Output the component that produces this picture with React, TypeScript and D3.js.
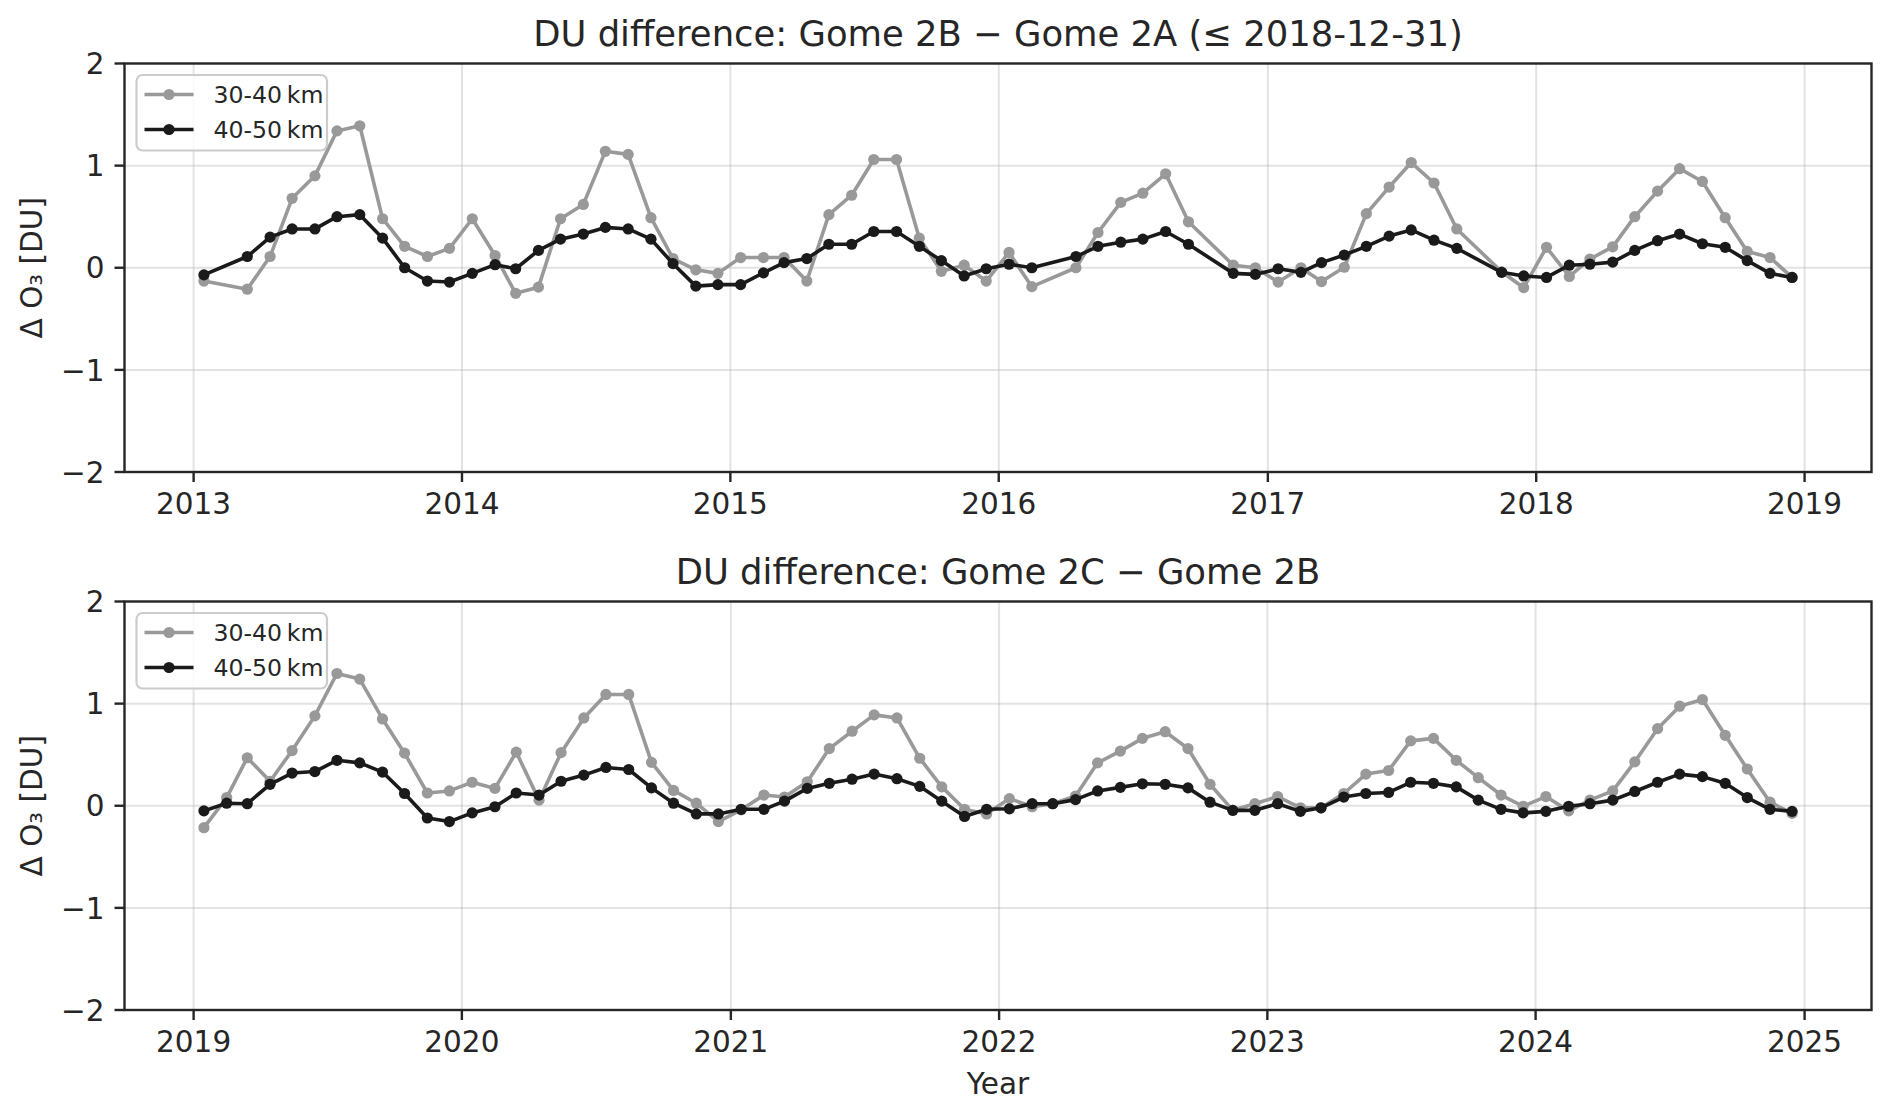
import { useRef, useEffect } from "react"
import * as d3 from "d3"

const WIDTH = 1892
const HEIGHT = 1113

// Gome 2B − Gome 2A (some months have no data)
const monthsTop = [
  "2013-01", "2013-03", "2013-04", "2013-05", "2013-06", "2013-07", "2013-08", "2013-09", "2013-10", "2013-11", "2013-12",
  "2014-01", "2014-02", "2014-03", "2014-04", "2014-05", "2014-06", "2014-07", "2014-08", "2014-09", "2014-10", "2014-11", "2014-12",
  "2015-01", "2015-02", "2015-03", "2015-04", "2015-05", "2015-06", "2015-07", "2015-08", "2015-09", "2015-10", "2015-11", "2015-12",
  "2016-01", "2016-02", "2016-04", "2016-05", "2016-06", "2016-07", "2016-08", "2016-09", "2016-11", "2016-12",
  "2017-01", "2017-02", "2017-03", "2017-04", "2017-05", "2017-06", "2017-07", "2017-08", "2017-09", "2017-11", "2017-12",
  "2018-01", "2018-02", "2018-03", "2018-04", "2018-05", "2018-06", "2018-07", "2018-08", "2018-09", "2018-10", "2018-11", "2018-12",
]
const gray30Top = [
  -0.13, -0.21, 0.11, 0.68, 0.9, 1.34, 1.39, 0.48, 0.21, 0.11, 0.19,
  0.48, 0.12, -0.25, -0.19, 0.48, 0.62, 1.14, 1.11, 0.49, 0.09, -0.02, -0.055,
  0.1, 0.1, 0.1, -0.13, 0.52, 0.71, 1.06, 1.06, 0.29, -0.035, 0.025, -0.13,
  0.15, -0.185, 0.0, 0.345, 0.64, 0.73, 0.92, 0.45, 0.025, 0.0,
  -0.14, 0.0, -0.135, 0.005, 0.53, 0.79, 1.03, 0.83, 0.38, -0.04, -0.195,
  0.2, -0.085, 0.085, 0.205, 0.5, 0.75, 0.97, 0.845, 0.49, 0.16, 0.1, -0.095,
]
const black40Top = [
  -0.07, 0.11, 0.3, 0.38, 0.38, 0.5, 0.52, 0.29, 0.0, -0.13, -0.14,
  -0.055, 0.03, -0.01, 0.17, 0.28, 0.33, 0.395, 0.38, 0.28, 0.04, -0.18, -0.165,
  -0.165, -0.05, 0.05, 0.09, 0.23, 0.23, 0.355, 0.355, 0.21, 0.07, -0.08, -0.01,
  0.035, 0.0, 0.11, 0.21, 0.25, 0.28, 0.355, 0.23, -0.055, -0.065,
  -0.01, -0.045, 0.05, 0.125, 0.21, 0.31, 0.37, 0.27, 0.19, -0.045, -0.08,
  -0.095, 0.025, 0.035, 0.055, 0.17, 0.265, 0.33, 0.235, 0.2, 0.07, -0.055, -0.095,
]

// Gome 2C − Gome 2B
const monthsBottom = [
  "2019-01", "2019-02", "2019-03", "2019-04", "2019-05", "2019-06", "2019-07", "2019-08", "2019-09", "2019-10", "2019-11", "2019-12",
  "2020-01", "2020-02", "2020-03", "2020-04", "2020-05", "2020-06", "2020-07", "2020-08", "2020-09", "2020-10", "2020-11", "2020-12",
  "2021-01", "2021-02", "2021-03", "2021-04", "2021-05", "2021-06", "2021-07", "2021-08", "2021-09", "2021-10", "2021-11", "2021-12",
  "2022-01", "2022-02", "2022-03", "2022-04", "2022-05", "2022-06", "2022-07", "2022-08", "2022-09", "2022-10", "2022-11", "2022-12",
  "2023-01", "2023-02", "2023-03", "2023-04", "2023-05", "2023-06", "2023-07", "2023-08", "2023-09", "2023-10", "2023-11", "2023-12",
  "2024-01", "2024-02", "2024-03", "2024-04", "2024-05", "2024-06", "2024-07", "2024-08", "2024-09", "2024-10", "2024-11", "2024-12",
]
const gray30Bottom = [
  -0.215, 0.08, 0.47, 0.24, 0.54, 0.88, 1.295, 1.24, 0.85, 0.515, 0.125, 0.145,
  0.23, 0.17, 0.525, 0.055, 0.52, 0.86, 1.09, 1.09, 0.425, 0.15, 0.025, -0.155,
  -0.04, 0.105, 0.085, 0.235, 0.56, 0.73, 0.89, 0.86, 0.465, 0.185, -0.035, -0.08,
  0.07, -0.01, 0.02, 0.095, 0.42, 0.535, 0.66, 0.725, 0.56, 0.21, -0.045, 0.02,
  0.09, -0.02, -0.02, 0.12, 0.31, 0.345, 0.635, 0.66, 0.445, 0.275, 0.105, -0.005,
  0.09, -0.05, 0.055, 0.145, 0.43, 0.755, 0.975, 1.04, 0.69, 0.36, 0.035, -0.075,
]
const black40Bottom = [
  -0.05, 0.025, 0.02, 0.21, 0.32, 0.335, 0.445, 0.42, 0.33, 0.12, -0.12, -0.155,
  -0.07, -0.01, 0.125, 0.105, 0.24, 0.3, 0.375, 0.355, 0.175, 0.025, -0.08, -0.08,
  -0.035, -0.035, 0.045, 0.17, 0.22, 0.26, 0.31, 0.265, 0.19, 0.045, -0.105, -0.035,
  -0.03, 0.02, 0.02, 0.06, 0.145, 0.18, 0.215, 0.21, 0.175, 0.035, -0.045, -0.045,
  0.02, -0.055, -0.02, 0.085, 0.12, 0.13, 0.23, 0.22, 0.185, 0.055, -0.035, -0.07,
  -0.055, -0.005, 0.02, 0.055, 0.14, 0.23, 0.31, 0.285, 0.22, 0.08, -0.035, -0.055,
]

const yTicks = [-2, -1, 0, 1, 2]
const seriesLabels = ["30-40\u2009km", "40-50\u2009km"]
const seriesColors = ["#999999", "#1a1a1a"]

const FONT = "DejaVu Sans, sans-serif"
const TEXT = "#262626"

// mid-month, like the source data
const toDate = (s: string) => {
  const [y, m] = s.split("-").map(Number)
  return new Date(y, m - 1, 15)
}

type Panel = {
  title: string
  months: string[]
  gray: number[]
  black: number[]
  top: number
  xLabel?: string
}

export default function App() {
  const svgRef = useRef<SVGSVGElement>(null)

  useEffect(() => {
    if (!svgRef.current) return
    const svg = d3.select(svgRef.current)
    svg.selectAll("*").remove()

    const left = 124.5
    const right = 1871.5
    const panelH = 408.5

    const panels: Panel[] = [
      {
        title: "DU difference: Gome 2B \u2212 Gome 2A (\u2264 2018-12-31)",
        months: monthsTop,
        gray: gray30Top,
        black: black40Top,
        top: 63.5,
      },
      {
        title: "DU difference: Gome 2C \u2212 Gome 2B",
        months: monthsBottom,
        gray: gray30Bottom,
        black: black40Bottom,
        top: 601.5,
        xLabel: "Year",
      },
    ]

    panels.forEach((p) => {
      const dates = p.months.map(toDate)
      const t0 = +dates[0]
      const t1 = +dates[dates.length - 1]
      const pad = (t1 - t0) * 0.05
      const x = d3.scaleTime().domain([new Date(t0 - pad), new Date(t1 + pad)]).range([left, right])
      const y = d3.scaleLinear().domain([-2, 2]).range([p.top + panelH, p.top])

      const g = svg.append("g")
      const xTicks = x.ticks(d3.timeYear.every(1))

      // grid
      g.append("g")
        .selectAll("line")
        .data(xTicks)
        .join("line")
        .attr("x1", (d) => x(d))
        .attr("x2", (d) => x(d))
        .attr("y1", p.top)
        .attr("y2", p.top + panelH)
        .attr("stroke", "#b0b0b0")
        .attr("stroke-opacity", 0.35)
        .attr("stroke-width", 2)
      g.append("g")
        .selectAll("line")
        .data(yTicks)
        .join("line")
        .attr("x1", left)
        .attr("x2", right)
        .attr("y1", (d) => y(d))
        .attr("y2", (d) => y(d))
        .attr("stroke", "#b0b0b0")
        .attr("stroke-opacity", 0.35)
        .attr("stroke-width", 2)

      // series: gray first, black on top
      const seriesVals = [p.gray, p.black]
      seriesVals.forEach((vals, si) => {
        const pts = vals.map((v, i) => ({ d: dates[i], v }))
        const line = d3
          .line<{ d: Date; v: number }>()
          .x((d) => x(d.d))
          .y((d) => y(d.v))
        g.append("path")
          .datum(pts)
          .attr("d", line)
          .attr("fill", "none")
          .attr("stroke", seriesColors[si])
          .attr("stroke-width", 3.6)
          .attr("stroke-linejoin", "round")
        g.append("g")
          .selectAll("circle")
          .data(pts)
          .join("circle")
          .attr("cx", (d) => x(d.d))
          .attr("cy", (d) => y(d.v))
          .attr("r", 5.6)
          .attr("fill", seriesColors[si])
      })

      // spines
      g.append("rect")
        .attr("x", left)
        .attr("y", p.top)
        .attr("width", right - left)
        .attr("height", panelH)
        .attr("fill", "none")
        .attr("stroke", TEXT)
        .attr("stroke-width", 2.4)

      // y ticks
      const yAx = g.append("g")
      yAx.selectAll("line")
        .data(yTicks)
        .join("line")
        .attr("x1", left - 10)
        .attr("x2", left)
        .attr("y1", (d) => y(d))
        .attr("y2", (d) => y(d))
        .attr("stroke", TEXT)
        .attr("stroke-width", 2.4)
      yAx.selectAll("text")
        .data(yTicks)
        .join("text")
        .attr("x", left - 20)
        .attr("y", (d) => y(d) + 10.7)
        .attr("text-anchor", "end")
        .attr("font-family", FONT)
        .attr("font-size", 29.5)
        .attr("fill", TEXT)
        .text((d) => (d < 0 ? "\u2212" + Math.abs(d) : String(d)))

      // x ticks
      const xAx = g.append("g")
      xAx.selectAll("line")
        .data(xTicks)
        .join("line")
        .attr("x1", (d) => x(d))
        .attr("x2", (d) => x(d))
        .attr("y1", p.top + panelH)
        .attr("y2", p.top + panelH + 10)
        .attr("stroke", TEXT)
        .attr("stroke-width", 2.4)
      xAx.selectAll("text")
        .data(xTicks)
        .join("text")
        .attr("x", (d) => x(d))
        .attr("y", p.top + panelH + 42)
        .attr("text-anchor", "middle")
        .attr("font-family", FONT)
        .attr("font-size", 29.5)
        .attr("fill", TEXT)
        .text((d) => d3.timeFormat("%Y")(d))

      // y label
      g.append("text")
        .attr("transform", `translate(42, ${p.top + panelH / 2}) rotate(-90)`)
        .attr("text-anchor", "middle")
        .attr("font-family", FONT)
        .attr("font-size", 29.5)
        .attr("fill", TEXT)
        .text("\u0394 O\u2083 [DU]")

      // title
      g.append("text")
        .attr("x", (left + right) / 2)
        .attr("y", p.top - 17.5)
        .attr("text-anchor", "middle")
        .attr("font-family", FONT)
        .attr("font-size", 35.4)
        .attr("fill", TEXT)
        .text(p.title)

      if (p.xLabel) {
        g.append("text")
          .attr("x", (left + right) / 2)
          .attr("y", p.top + panelH + 84)
          .attr("text-anchor", "middle")
          .attr("font-family", FONT)
          .attr("font-size", 29.5)
          .attr("fill", TEXT)
          .text(p.xLabel)
      }

      // legend
      const lg = g.append("g").attr("transform", `translate(136.5, ${p.top + 11.5})`)
      lg.append("rect")
        .attr("width", 190.5)
        .attr("height", 75.5)
        .attr("rx", 6)
        .attr("fill", "white")
        .attr("fill-opacity", 0.8)
        .attr("stroke", "#cccccc")
        .attr("stroke-width", 2.2)
      seriesLabels.forEach((lab, i) => {
        const cy = 19.5 + i * 35
        lg.append("line")
          .attr("x1", 8)
          .attr("x2", 57)
          .attr("y1", cy)
          .attr("y2", cy)
          .attr("stroke", seriesColors[i])
          .attr("stroke-width", 3.6)
        lg.append("circle").attr("cx", 32.5).attr("cy", cy).attr("r", 5.6).attr("fill", seriesColors[i])
        lg.append("text")
          .attr("x", 77)
          .attr("y", cy + 8.6)
          .attr("font-family", FONT)
          .attr("font-size", 23.6)
          .attr("fill", TEXT)
          .text(lab)
      })
    })
  }, [])

  return (
    <div>
      <style>{`body { margin: 0; background: white; }`}</style>
      <svg ref={svgRef} width={WIDTH} height={HEIGHT} style={{ display: "block" }} />
    </div>
  )
}
